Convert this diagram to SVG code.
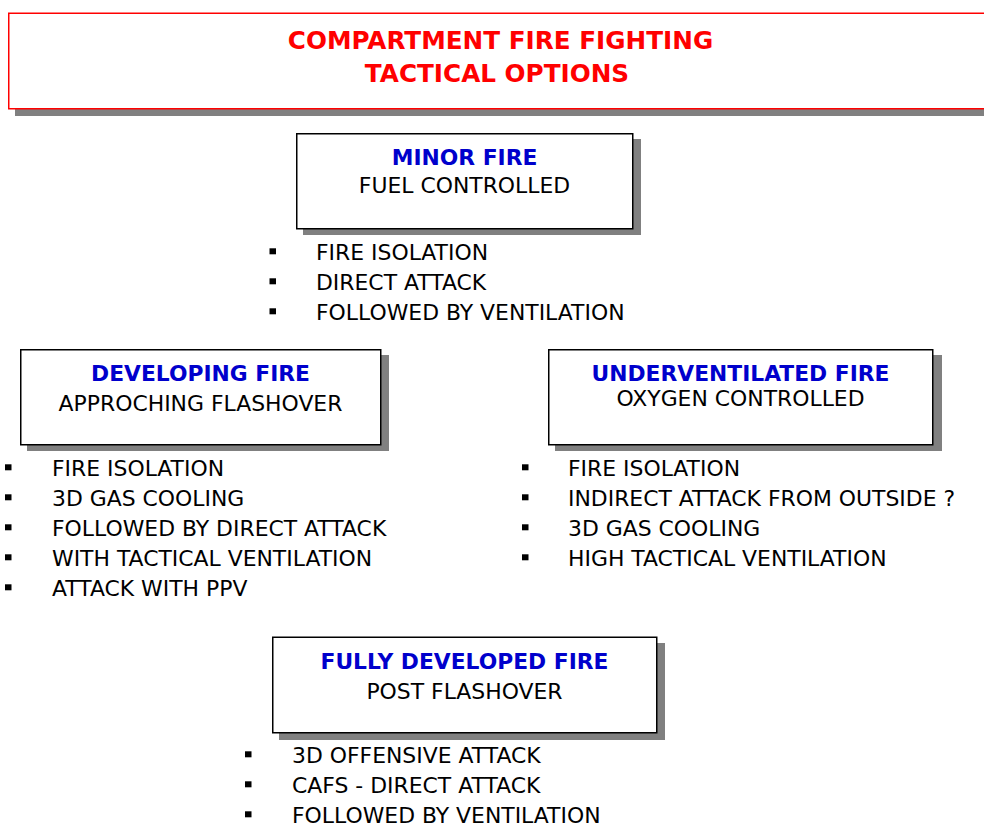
<svg xmlns="http://www.w3.org/2000/svg" width="984" height="825" viewBox="0 0 984 825">
<style>
  .shadow{fill:#808080;}
  .box{fill:#ffffff;stroke:#000000;stroke-width:1.5;}
  .tbox{fill:#ffffff;stroke:#ff0000;stroke-width:1.5;}
  .title{font-family:"DejaVu Sans","Verdana",sans-serif;font-weight:bold;font-size:24.7px;fill:#ff0000;text-anchor:middle;}
  .head{font-family:"DejaVu Sans","Verdana",sans-serif;font-weight:bold;font-size:21.8px;fill:#0000cc;text-anchor:middle;}
  .sub{font-family:"DejaVu Sans","Verdana",sans-serif;font-size:21.9px;fill:#000000;text-anchor:middle;}
  .item{font-family:"DejaVu Sans","Verdana",sans-serif;font-size:21.9px;fill:#000000;}
  .bul{fill:#000000;}
</style>
<rect width="984" height="825" fill="#ffffff"/>
<g id="connectors"/>
<g id="title">
  <rect class="shadow" x="15" y="20" width="990" height="96"/>
  <rect class="tbox" x="8.75" y="13.25" width="990" height="95.5"/>
  <text class="title" x="500.5" y="49">COMPARTMENT FIRE FIGHTING</text>
  <text class="title" x="497" y="82">TACTICAL OPTIONS</text>
</g>
<g id="minor-fire">
  <rect class="shadow" x="303" y="139" width="338" height="96"/>
  <rect class="box" x="296.75" y="133.75" width="336" height="95"/>
  <text class="head" x="464.5" y="165">MINOR FIRE</text>
  <text class="sub" x="464.5" y="193">FUEL CONTROLLED</text>
  <rect class="bul" x="269.5" y="248.3" width="6.5" height="6"/>
  <text class="item" x="316" y="260">FIRE ISOLATION</text>
  <rect class="bul" x="269.5" y="278.3" width="6.5" height="6"/>
  <text class="item" x="316" y="290">DIRECT ATTACK</text>
  <rect class="bul" x="269.5" y="308.3" width="6.5" height="6"/>
  <text class="item" x="316" y="320">FOLLOWED BY VENTILATION</text>
</g>
<g id="developing-fire">
  <rect class="shadow" x="27" y="355" width="362" height="96"/>
  <rect class="box" x="20.75" y="349.75" width="360" height="95"/>
  <text class="head" x="200.5" y="381">DEVELOPING FIRE</text>
  <text class="sub" x="200.5" y="411">APPROCHING FLASHOVER</text>
  <rect class="bul" x="5" y="464.3" width="6.5" height="6"/>
  <text class="item" x="52" y="476">FIRE ISOLATION</text>
  <rect class="bul" x="5" y="494.3" width="6.5" height="6"/>
  <text class="item" x="52" y="506">3D GAS COOLING</text>
  <rect class="bul" x="5" y="524.3" width="6.5" height="6"/>
  <text class="item" x="52" y="536">FOLLOWED BY DIRECT ATTACK</text>
  <rect class="bul" x="5" y="554.3" width="6.5" height="6"/>
  <text class="item" x="52" y="566">WITH TACTICAL VENTILATION</text>
  <rect class="bul" x="5" y="584.3" width="6.5" height="6"/>
  <text class="item" x="52" y="596">ATTACK WITH PPV</text>
</g>
<g id="underventilated-fire">
  <rect class="shadow" x="555" y="355" width="387" height="96"/>
  <rect class="box" x="548.75" y="349.75" width="384" height="95"/>
  <text class="head" x="740.5" y="381">UNDERVENTILATED FIRE</text>
  <text class="sub" x="740.5" y="406">OXYGEN CONTROLLED</text>
  <rect class="bul" x="522" y="464.3" width="6.5" height="6"/>
  <text class="item" x="568" y="476">FIRE ISOLATION</text>
  <rect class="bul" x="522" y="494.3" width="6.5" height="6"/>
  <text class="item" x="568" y="506">INDIRECT ATTACK FROM OUTSIDE ?</text>
  <rect class="bul" x="522" y="524.3" width="6.5" height="6"/>
  <text class="item" x="568" y="536">3D GAS COOLING</text>
  <rect class="bul" x="522" y="554.3" width="6.5" height="6"/>
  <text class="item" x="568" y="566">HIGH TACTICAL VENTILATION</text>
</g>
<g id="fully-developed-fire">
  <rect class="shadow" x="279" y="643" width="386" height="97"/>
  <rect class="box" x="272.75" y="637.25" width="384" height="95.5"/>
  <text class="head" x="464.5" y="669">FULLY DEVELOPED FIRE</text>
  <text class="sub" x="464.5" y="699">POST FLASHOVER</text>
  <rect class="bul" x="245" y="751.3" width="6.5" height="6"/>
  <text class="item" x="292" y="763">3D OFFENSIVE ATTACK</text>
  <rect class="bul" x="245" y="781.3" width="6.5" height="6"/>
  <text class="item" x="292" y="793">CAFS - DIRECT ATTACK</text>
  <rect class="bul" x="245" y="811.3" width="6.5" height="6"/>
  <text class="item" x="292" y="823">FOLLOWED BY VENTILATION</text>
</g>
</svg>
